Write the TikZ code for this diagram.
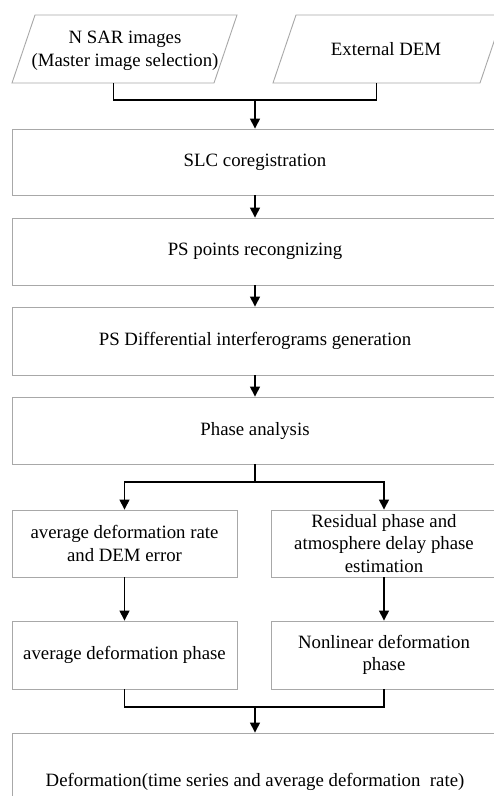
\documentclass[tikz,border=0pt]{standalone}
\usepackage{fontspec}
\setmainfont{Liberation Serif}
\usetikzlibrary{arrows.meta}
\definecolor{boxgray}{HTML}{A8A8A8}
\tikzset{
  x=1pt, y=-1pt,
  txt/.style={font=\fontsize{18.8}{22.5}\selectfont, align=center, inner sep=0pt},
  procbox/.style={draw=boxgray, line width=0.9pt, fill=white, rectangle, inner sep=2pt,
    font=\fontsize{18.8}{22.5}\selectfont, align=center},
  widebox/.style={procbox, minimum width=486pt},
  halfbox/.style={procbox, minimum width=225pt, minimum height=67pt},
  parabox/.style={draw=boxgray, line width=0.9pt, fill=white},
  conn/.style={line width=1.4pt, black},
  arr/.style={conn, -{Triangle[width=10pt,length=10pt]}},
}
\begin{document}
\begin{tikzpicture}
\clip (0,0) rectangle (494,796);
\fill[white] (0,0) rectangle (494,796);
% input parallelograms
\draw[parabox] (35,15) -- (237,15) -- (214,83) -- (12,83) -- cycle;
\draw[parabox] (296,15) -- (503,15) -- (480,83) -- (273,83) -- cycle;
\node[txt] (nsar) at (125,51) {N SAR images\\(Master image selection)};
\node[txt] (dem) at (386,49) {External DEM};
\coordinate (nsarb) at (113.5,83);
\coordinate (demb) at (376.5,83);
% main chain
\node[widebox, minimum height=66pt] (slc) at (255,162) {SLC coregistration};
\node[widebox, minimum height=67pt] (pspts) at (255,251.5) {PS points recongnizing};
\node[widebox, minimum height=68pt] (psdiff) at (255,341) {PS Differential interferograms generation};
\node[widebox, minimum height=67pt] (phase) at (255,430.5) {Phase analysis};
\node[halfbox] (avgrate) at (124.5,543.5) {average deformation rate\\and DEM error};
\node[halfbox, minimum width=226pt] (resid) at (384,543.5) {Residual phase and\\atmosphere delay phase\\estimation};
\node[halfbox, minimum height=68pt] (avgphase) at (124.5,655) {average deformation phase};
\node[halfbox, minimum width=226pt, minimum height=68pt] (nonlin) at (384,655) {Nonlinear deformation\\phase};
\node[widebox, minimum height=98pt] (final) at (255,782) {Deformation(time series and average deformation~~rate)};
% connectors
\coordinate (j1) at (255,100);
\coordinate (j2) at (255,482);
\coordinate (j3) at (255,707);
\draw[conn] (nsarb) |- (j1) -| (demb);
\draw[arr] (j1) -- (slc.north);
\draw[arr] (slc.south) -- (pspts.north);
\draw[arr] (pspts.south) -- (psdiff.north);
\draw[arr] (psdiff.south) -- (phase.north);
\draw[conn] (phase.south) -- (j2);
\draw[arr] (j2) -| (avgrate.north);
\draw[arr] (j2) -| (resid.north);
\draw[arr] (avgrate.south) -- (avgphase.north);
\draw[arr] (resid.south) -- (nonlin.north);
\draw[conn] (avgphase.south) |- (j3) -| (nonlin.south);
\draw[arr] (j3) -- (final.north);
\end{tikzpicture}
\end{document}
